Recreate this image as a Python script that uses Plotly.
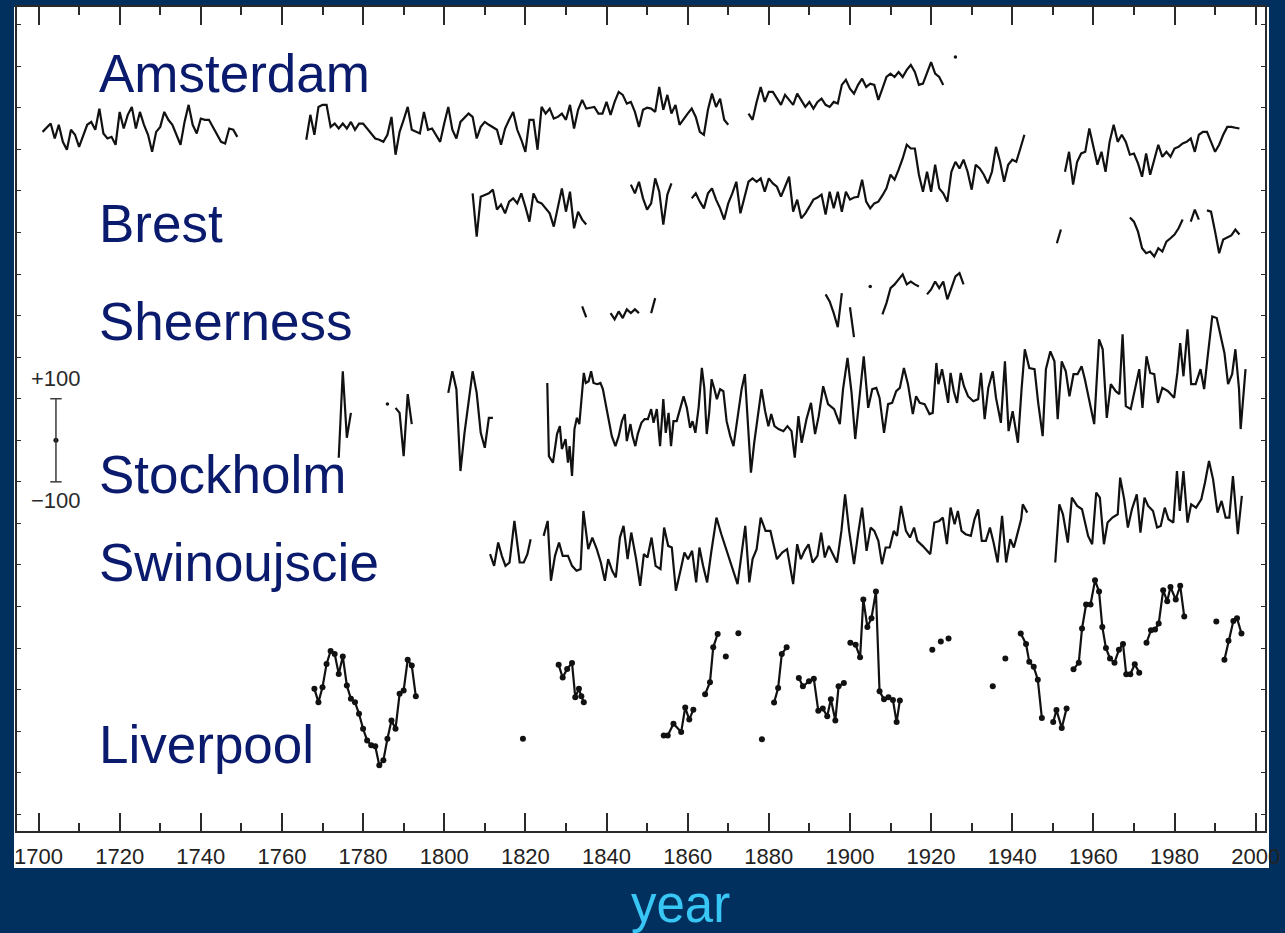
import plotly.graph_objects as go

# ---------------------------------------------------------------------------
# Data: annual sea-level anomalies (mm).
# Annual segments are given as (first year, values); decimal-year series use
# None to separate gaps.
# ---------------------------------------------------------------------------

AMSTERDAM_START = [1701, 1766, 1875, 1926]
AMSTERDAM_MM = [
    [2, 12, 22, -14, 19, -22, -41, 7, -5, -34, -5, 19, 26, 7, 58, -2, -14, -10, -29, 50,
     10, 43, 62, 10, 50, 19, -5, -46, 2, 14, 50, 31, 19, -5, -29, 26, 67, 19, -2, 34,
     31, 31, 14, -2, -22, -26, 10, 7, -10],
    [-17, 43, -5, 62, 67, 67, 14, 22, 10, 22,
     10, 26, 7, 22, 22, 10, -2, -14, -17, -22,
     -5, 38, -53, 2, 31, 62, 7, 2, -2, 50,
     7, 10, -5, -22, 22, 62, 7, -14, 26, 36,
     46, 38, -14, 14, 26, 19, 14, 7, -29, 10,
     31, 50, 7, -17, -46, 31, 31, -41, 62, 46,
     58, 34, 38, 46, 31, 67, 10, 55, 79, 58,
     60, 62, 46, 46, 74, 43, 74, 98, 91, 70,
     74, 50, 14, 55, 60, 58, 50, 110, 55, 91,
     46, 67, 19, 34, 46, 58, 38, 2, -5, 55,
     94, 62, 82, 31, 19],
    [46, 31, 74, 110, 74, 98, 98, 82, 67, 91,
     79, 67, 94, 79, 62, 74, 58, 74, 82, 67,
     62, 74, 70, 115, 127, 106, 94, 115, 130, 110,
     118, 115, 79, 106, 134, 142, 134, 146, 134, 151,
     163, 146, 115, 118, 142, 170, 142, 134, 115],
    [182],
]

BREST_START = [1807, 1846, 1861, 1953]
BREST_MM = [
    [-26, -130, -34, -29, -26, -17, -65, -53, -74, -46,
     -38, -50, -26, -58, -94, -26, -46, -50, -62, -74,
     -106, -58, -14, -70, -22, -110, -70, -89, -101],
    [-5, -26, 2, -38, -65, -50, 10, -22, -101, -29, -2],
    [-38, -26, -46, -62, -26, -14, -41, -62, -89, -50,
     -26, 2, -74, -38, 2, 10, 2, 10, -22, 10,
     -2, -10, -34, -10, 14, -70, -41, -86, -74, -58,
     -41, -36, -29, -77, -22, -62, -22, -70, -22, -41,
     -36, -34, 7, -46, -62, -50, -46, -31, -14, 19,
     7, 31, 58, 91, 82, 82, 19, -22, 26, -22,
     43, -14, -26, -46, 26, 50, 34, 55, 26, -17,
     43, 34, 19, -2, 26, 86, 50, 2, 43, 55,
     50, 82, 115],
    [26, 74, -5, 50, 70, 74, 130, 82, 43, 74,
     26, 98, 139, 98, 115, 98, 67, 70, 46, 14,
     70, 19, 58, 91, 62, 74, 62, 82, 86, 94,
     98, 106, 74, 115, 122, 122, 98, 74, 91, 115,
     134, 134, 132, 130],
]

SHEERNESS_START = [1834, 1841, 1851, 1894, 1900, 1905, 1908, 1919, 1951, 1969, 1984, 1988]
SHEERNESS_MM = [
    [2, -24],
    [-14, -29, -10, -26, -5, -14, -5, -14],
    [-14, 22],
    [31, 14, -14, -48, 34],
    [0, -72],
    [50],
    [-17, 10, 46, 55, 67, 79, 55, 62, 55, 50],
    [31, 43, 62, 46, 62, 19, 46, 74, 82, 55],
    [154, 187],
    [216, 206, 182, 142, 130, 134, 122, 142, 134, 158, 166, 175, 190, 211],
    [206, 235, 211],
    [233, 230, 182, 130, 163, 168, 173, 187, 175],
]

STOCKHOLM_EARLY_START = [1774, 1786, 1788, 1801]
STOCKHOLM_EARLY_MM = [
    [-122, 86, -74, -14],
    [7],
    [-2, -14, -118, 31, -41],
    [34, 86, 43, -154, -62, 19, 86, 34, -62, -98, -26, -26],
]
STOCKHOLM_YEARS = [
    1825.4, 1825.8, 1826.8, 1827.8, 1828.5, 1829.0, 1829.9, 1830.5, 1830.9, 1831.5,
    1832.1, 1832.7, 1833.3, 1834.0, 1834.4, 1834.9, 1835.6, 1836.2, 1836.8, 1837.7,
    1838.5, 1839.1, 1839.7, 1840.5, 1841.3, 1842.2, 1843.0, 1843.8, 1844.5, 1845.0,
    1845.9, 1846.4, 1847.1, 1847.7, 1848.6, 1849.4, 1850.2, 1851.0, 1851.6, 1852.4,
    1853.2, 1854.0, 1854.6, 1855.3, 1855.9, 1856.5, 1857.3, 1858.2, 1859.0, 1859.8,
    1860.6, 1861.2, 1861.9, 1862.7, 1863.5, 1864.1, 1864.7, 1865.3, 1865.9, 1866.6,
    1867.2, 1868.0, 1868.8, 1869.6, 1870.5, 1871.3, 1872.1, 1873.3, 1874.1, 1874.8,
    1875.6, 1876.4, 1877.4, 1878.2, 1879.1, 1879.9, 1880.6, 1881.4, 1882.4, 1883.6,
    1884.6, 1885.6, 1886.4, 1887.3, 1888.1,
    1889.3, 1890.4, 1891.4, 1892.3, 1893.4, 1894.6, 1896.1, 1897.5, 1898.3, 1899.4,
    1900.4, 1901.3, 1902.4, 1903.4, 1904.5, 1905.5, 1906.5, 1907.3, 1908.4, 1909.4,
    1910.4, 1911.4, 1912.3, 1913.3, 1914.3, 1915.5, 1916.3, 1917.2, 1918.4, 1919.6,
    1920.4, 1921.3, 1921.8, 1922.7, 1923.4, 1924.2, 1924.8, 1925.6, 1926.4, 1927.3,
    1928.1, 1929.1, 1930.4, 1931.6, 1932.3, 1933.2, 1934.1, 1935.2, 1936.0, 1937.2,
    1938.2, 1939.1, 1940.1, 1941.4, 1942.3, 1943.1, 1944.2, 1945.5, 1946.4, 1947.5,
    1948.3, 1949.4, 1950.4, 1951.2, 1952.2, 1953.2, 1954.1, 1955.1, 1956.1, 1957.1,
    1957.9, 1959.2, 1960.2, 1961.4, 1962.3, 1963.3, 1964.3, 1965.5, 1966.4, 1967.2,
    1968.0, 1969.2, 1970.2, 1971.3, 1972.1, 1973.1, 1974.0, 1975.0, 1975.9, 1977.0,
    1978.4, 1979.9, 1980.7, 1981.4, 1982.2, 1983.2, 1984.1, 1985.2, 1986.4, 1987.3,
    1988.1, 1989.3, 1990.4, 1991.3, 1992.3, 1993.2, 1994.2, 1995.0, 1995.9, 1996.3,
    1997.5,
]
STOCKHOLM_MM = [
    58, -118, -134, -65, -46, -101, -77, -134, -94, -166,
    -53, -26, -41, 34, 82, 58, 62, 86, 58, 55,
    58, 43, 10, -34, -70, -94, -70, -34, -17, -82,
    -41, -70, -94, -65, -38, -29, -29, -5, -38, -5,
    -94, 19, -62, -14, -94, -34, -34, -2, 26, -2,
    -50, -34, -62, -2, 94, 46, -65, -14, 67, 43,
    19, 43, 38, -34, -70, -94, -38, 43, 79, -38,
    -158, -86, -14, 43, -10, -46, -17, -46, -53, -58,
    -46, -58, -122, -22, -86,
    -29, 10, -65, -22, 50, 7, -5, -41, 43, 118,
    34, -77, 26, 122, -2, 43, 46, 22, -62, 7,
    10, 38, 46, 94, 55, -17, 26, 10, 7, -17,
    -14, 106, 55, 91, 55, 10, 82, 38, 10, 82,
    50, 26, 14, 19, 82, -29, 46, 86, 22, -38,
    110, -58, -10, -86, 43, 139, 94, 91, 10, -70,
    91, 134, 110, -29, 110, 86, 26, 79, 79, 98,
    67, 10, -41, 163, 139, -26, 55, 38, 31, 175,
    2, -5, 43, 91, -2, 122, 82, 79, 10, 46,
    38, 22, 82, 154, 74, 187, 55, 55, 91, 43,
    115, 218, 214, 170, 130, 55, 79, 139, 43, -53,
    91,
]

SWINOUJSCIE_YEARS = [
    1811.3, 1812.3, 1813.3, 1814.2, 1815.1, 1816.1, 1817.3, 1818.6, 1819.6, 1820.5, 1821.3,
    None,
    1824.5, 1825.5, 1826.3, 1827.3, 1828.3, 1829.2, 1830.5, 1831.5, 1832.6, 1833.6,
    1834.3, 1835.5, 1836.5, 1837.6, 1838.6, 1839.6, 1840.4, 1841.4, 1842.3, 1843.3,
    1844.2, 1845.2, 1846.1, 1847.3, 1848.3, 1849.2, 1850.1, 1851.1, 1852.1, 1853.3,
    1854.2, 1855.2, 1856.1, 1857.1, 1858.3, 1859.2, 1860.1, 1861.1, 1862.1, 1862.9,
    1863.8, 1864.8, 1865.8, 1867.1, 1868.3, 1869.5, 1871.0, 1872.3, 1874.2, 1875.2,
    1876.0, 1877.0, 1878.0, 1879.2, 1880.4, 1882.0, 1883.3, 1884.5, 1886.0, 1887.0,
    1887.9, 1888.8, 1889.8, 1890.8, 1892.0, 1892.9, 1893.8, 1894.8, 1895.8, 1896.8,
    1897.9, 1898.8, 1899.8, 1901.0, 1902.0, 1903.0, 1904.1, 1905.1, 1906.0, 1907.0,
    1907.9, 1908.8, 1909.8, 1910.8, 1911.6, 1912.6, 1913.8, 1914.8, 1915.8, 1916.6,
    1917.9, 1919.1, 1919.8, 1920.8, 1922.0, 1922.9, 1923.9, 1924.8, 1925.8, 1926.6,
    1927.5, 1928.5, 1929.8, 1930.7, 1931.6, 1932.5, 1933.5, 1934.5, 1935.4, 1936.4,
    1937.5, 1938.5, 1939.5, 1940.4, 1941.2, 1942.2, 1942.6, 1943.7,
    None,
    1950.6, 1951.6, 1952.5, 1953.7, 1954.7, 1956.0, 1957.2, 1957.9, 1958.7, 1959.7,
    1960.7, 1961.6, 1962.6, 1963.5, 1964.7, 1966.0, 1966.6, 1967.6, 1968.5, 1969.5,
    1970.7, 1971.6, 1972.6, 1973.5, 1974.7, 1975.7, 1976.6, 1977.6, 1978.5, 1979.7,
    1980.6, 1981.3, 1982.2, 1983.2, 1984.1, 1985.3, 1986.6, 1987.5, 1988.5, 1989.5,
    1990.6, 1991.6, 1992.6, 1993.5, 1994.4, 1995.6, 1996.6,
]
SWINOUJSCIE_MM = [
    -54, -82, -26, -58, -82, -74, 26, -74, -74, -54, -18,
    None,
    -10, 26, -118, -58, -26, -58, -58, -82, -94, -90,
    50, -42, -14, -42, -74, -118, -66, -94, -110, -14,
    14, -66, -2, -66, -130, -54, -62, -14, -82, -90,
    10, -34, -38, -142, -90, -50, -66, -46, -122, -38,
    -82, -122, -50, 34, -6, -42, -90, -126, 14, -122,
    -66, -42, 34, 2, 2, -66, -50, -42, -126, -30,
    -66, -46, -30, -74, -58, -2, -62, -34, -54, -74,
    2, 90, 2, -78, -6, 58, -46, 10, 2, -22,
    -78, -38, -38, 2, -10, 62, 2, -14, 10, -22,
    -34, -46, -54, 22, 26, 34, -30, 58, 18, 50,
    2, -6, -10, 30, 54, -22, -22, 10, -26, -74,
    38, -74, -18, -38, -10, 30, 66, 46,
    None,
    -74, 66, 42, -26, 82, 62, 54, 26, -10, -30,
    94, 82, -30, 22, 34, 42, 130, 78, 10, 54,
    90, -2, 82, 62, 50, 10, 14, 58, 30, 22,
    146, 50, 146, 22, 66, 58, 78, 118, 170, 126,
    46, 74, 34, 34, 134, -6, 86,
]

LIVERPOOL_YEARS = [
    1768, 1769, 1770, 1771, 1772, 1773, 1774, 1775, 1776, 1777, 1778, 1779, 1780,
    1781, 1782, 1783, 1784, 1785, 1786, 1787, 1788, 1789, 1790, 1791, 1792, 1793, None,
    1819.4, None,
    1828.2, 1829.2, 1830.3, 1831.5, 1832.3, 1833.2, 1833.8, 1834.4, None,
    1854.1, 1855.1, 1856.5, 1858.4, 1859.4, 1860.4, 1861.4, None,
    1864.3, 1865.5, 1866.3, 1867.4, None,
    1869.4, None, 1872.5, None, 1878.3, None,
    1881.3, 1882.3, 1883.2, 1884.4, None,
    1887.4, 1888.4, 1889.9, 1891.1, 1892.2, 1893.3, 1894.4, 1895.3, 1896.4, 1897.2, 1898.5, None,
    1900.1, 1901.4, 1902.5, 1903.3, 1904.3, 1905.3, 1906.4, 1907.3, 1908.4, 1909.5, 1910.6,
    1911.5, 1912.3, None,
    1920.3, None, 1922.4, None, 1924.3, None, 1935.2, None, 1938.3, None,
    1942.1, 1943.4, 1944.2, 1945.3, 1946.3, 1947.3, None,
    1950.1, 1950.9, 1952.2, 1953.4, None,
    1955.1, 1956.4, 1957.2, 1958.2, 1959.3, 1960.4, 1961.4, 1962.2, 1963.1, 1964.1, 1965.2,
    1966.3, 1967.3, 1968.1, 1969.1, 1970.2, 1971.3, None,
    1973.1, 1974.2, 1975.2, 1976.1, 1977.2, 1978.2, 1979.0, 1980.3, 1981.4, 1982.4, None,
    1990.3, None,
    1992.3, 1993.3, 1994.5, 1995.4, 1996.5,
]
LIVERPOOL_MM = [
    -18, -50, -14, 42, 73, 66, 18, 60, -10, -42, -50, -78, -114,
    -142, -154, -156, -202, -190, -138, -94, -114, -30, -22, 52, 38, -36, None,
    -138, None,
    40, 9, 30, 44, -38, -18, -36, -50, None,
    -130, -130, -102, -122, -63, -92, -68, None,
    -31, -2, 82, 114, None,
    60, None, 116, None, -139, None,
    -51, -16, 66, 82, None,
    8, -12, 0, 6, -71, -65, -84, -43, -94, -12, -4, None,
    93, 88, 58, 197, 131, 152, 216, -24, -43, -38, -45,
    -98, -46, None,
    76, None, 96, None, 103, None, -12, None, 55, None,
    115, 90, 47, 35, 4, -88, None,
    -98, -69, -112, -65, None,
    29, 45, 127, 185, 185, 243, 216, 131, 80, 55, 45,
    76, 90, 17, 17, 41, 21, None,
    93, 123, 125, 139, 219, 193, 227, 197, 230, 156, None,
    144, None,
    52, 98, 145, 152, 115,
]

STATIONS = ["Amsterdam", "Brest", "Sheerness", "Stockholm", "Swinoujscie", "Liverpool"]
# vertical offset (mm) at which each station's curve is drawn
OFFSET_MM = {"Amsterdam": 1680, "Brest": 1560, "Sheerness": 1260,
             "Stockholm": 1020, "Swinoujscie": 720, "Liverpool": 360}
# label vertical position (mm on the stacked axis)
LABEL_MM = {"Amsterdam": 1822, "Brest": 1462, "Sheerness": 1226,
            "Stockholm": 857, "Swinoujscie": 646, "Liverpool": 209}

X_TICK_START = 1700

# ---------------------------------------------------------------------------
NAVY = "#02305e"
LABEL_BLUE = "#0a1a6c"
CYAN = "#38c6f4"
INK = "#111111"
AXIS_INK = "#2a2a2a"
FONT = "Liberation Sans, Arial, Helvetica, sans-serif"


def annual_xy(starts, segs, offset):
    xs, ys, ix, iy = [], [], [], []
    for s, seg in zip(starts, segs):
        yrs = list(range(s, s + len(seg)))
        vals = [v + offset for v in seg]
        if len(seg) == 1:
            ix += yrs
            iy += vals
        xs += yrs + [None]
        ys += vals + [None]
    return xs, ys, ix, iy


def broken_xy(years, mm, offset):
    ys = [None if v is None else v + offset for v in mm]
    ix, iy = [], []
    for i, v in enumerate(mm):
        if v is None:
            continue
        prev_none = i == 0 or mm[i - 1] is None
        next_none = i == len(mm) - 1 or mm[i + 1] is None
        if prev_none and next_none:
            ix.append(years[i])
            iy.append(v + offset)
    return list(years), ys, ix, iy


series = {}
series["Amsterdam"] = annual_xy(AMSTERDAM_START, AMSTERDAM_MM, OFFSET_MM["Amsterdam"])
series["Brest"] = annual_xy(BREST_START, BREST_MM, OFFSET_MM["Brest"])
series["Sheerness"] = annual_xy(SHEERNESS_START, SHEERNESS_MM, OFFSET_MM["Sheerness"])
sx, sy, six, siy = annual_xy(STOCKHOLM_EARLY_START, STOCKHOLM_EARLY_MM, OFFSET_MM["Stockholm"])
mx, my, _, _ = broken_xy(STOCKHOLM_YEARS, STOCKHOLM_MM, OFFSET_MM["Stockholm"])
series["Stockholm"] = (sx + mx, sy + my, six, siy)
series["Swinoujscie"] = broken_xy(SWINOUJSCIE_YEARS, SWINOUJSCIE_MM, OFFSET_MM["Swinoujscie"])

fig = go.Figure()

for name in ["Amsterdam", "Brest", "Sheerness", "Stockholm", "Swinoujscie"]:
    xs, ys, ix, iy = series[name]
    fig.add_trace(go.Scatter(x=xs, y=ys, mode="lines", name=name,
                             line=dict(color=INK, width=2.2), connectgaps=False,
                             hoverinfo="skip"))
    if ix:
        fig.add_trace(go.Scatter(x=ix, y=iy, mode="markers", name=name + " (single)",
                                 marker=dict(color=INK, size=3.5), hoverinfo="skip"))

lx, ly, _, _ = broken_xy(LIVERPOOL_YEARS, LIVERPOOL_MM, OFFSET_MM["Liverpool"])
fig.add_trace(go.Scatter(x=lx, y=ly, mode="lines+markers", name="Liverpool",
                         line=dict(color=INK, width=2.2), connectgaps=False,
                         marker=dict(color=INK, size=6), hoverinfo="skip"))

# scale bar (+/-100 mm around 940 mm)
SCALE_X = 1704.3
SCALE_MID = 940
SCALE_HALF = 100
bar_color = "#3a3a3a"
fig.add_shape(type="line", xref="x", yref="y", x0=SCALE_X, x1=SCALE_X,
              y0=SCALE_MID - SCALE_HALF, y1=SCALE_MID + SCALE_HALF,
              line=dict(color=bar_color, width=1.5))
for yy in (SCALE_MID - SCALE_HALF, SCALE_MID + SCALE_HALF):
    fig.add_shape(type="line", xref="x", yref="y", x0=SCALE_X - 1.4, x1=SCALE_X + 1.4,
                  y0=yy, y1=yy, line=dict(color=bar_color, width=1.5))
fig.add_trace(go.Scatter(x=[SCALE_X], y=[SCALE_MID], mode="markers",
                         marker=dict(color="#111", size=5), hoverinfo="skip"))
fig.add_annotation(x=SCALE_X, y=SCALE_MID + 148, xref="x", yref="y", text="+100",
                   showarrow=False, font=dict(family=FONT, size=22, color=AXIS_INK))
fig.add_annotation(x=SCALE_X, y=SCALE_MID - 146, xref="x", yref="y", text="\u2212100",
                   showarrow=False, font=dict(family=FONT, size=22, color=AXIS_INK))

# station labels
for name in STATIONS:
    fig.add_annotation(x=0.064, xref="paper", y=LABEL_MM[name], yref="y", text=name,
                       showarrow=False, xanchor="left", yanchor="middle",
                       font=dict(family=FONT, size=53, color=LABEL_BLUE))

# axis title
fig.add_annotation(x=0.532, y=-0.0896, xref="paper", yref="paper", text="year",
                   showarrow=False, xanchor="center", yanchor="middle",
                   font=dict(family=FONT, size=51, color=CYAN))

# white panel behind the plot
fig.add_shape(type="rect", xref="paper", yref="paper", x0=-0.0024, x1=1.0032,
              y0=-0.0448, y1=1.0, fillcolor="white", line=dict(width=0), layer="below")

fig.update_layout(
    width=1285, height=933,
    margin=dict(l=17, r=17, t=5, b=102),
    paper_bgcolor=NAVY, plot_bgcolor="white",
    showlegend=False,
    xaxis=dict(range=[1694.7, 2002.3], showgrid=False, zeroline=False,
               showline=True, linecolor=AXIS_INK, linewidth=1.5, mirror="ticks",
               ticks="inside", tick0=X_TICK_START, dtick=20, ticklen=18, tickwidth=1.5,
               tickcolor=AXIS_INK, ticklabelstandoff=5,
               minor=dict(ticks="inside", tick0=X_TICK_START, dtick=10, ticklen=8,
                          tickwidth=1.5, tickcolor=AXIS_INK, showgrid=False),
               tickfont=dict(family=FONT, size=22, color="#222")),
    yaxis=dict(range=[0, 1982.4], showgrid=False, zeroline=False,
               showline=True, linecolor=AXIS_INK, linewidth=1.5, mirror="ticks",
               ticks="inside", tick0=40, dtick=100, ticklen=4, tickwidth=1.2,
               tickcolor=AXIS_INK, showticklabels=False),
)

fig.write_html("out.html", config={"displayModeBar": False},
               post_script="document.body.style.margin='0';document.body.style.overflow='hidden';")
